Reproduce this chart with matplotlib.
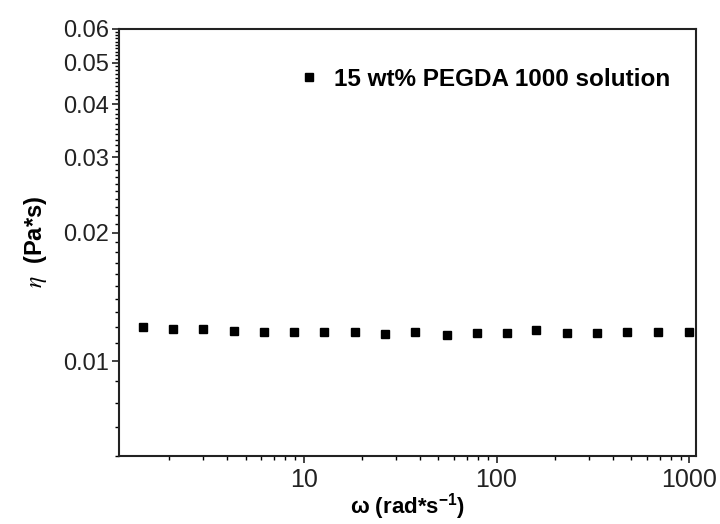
import numpy as np
import matplotlib
matplotlib.use('Agg')
import matplotlib.pyplot as plt
from matplotlib.ticker import FixedLocator, NullFormatter

plt.rcParams['font.family'] = ['Liberation Sans', 'DejaVu Sans']
plt.rcParams['mathtext.fontset'] = 'custom'
plt.rcParams['mathtext.rm'] = 'Liberation Sans'
plt.rcParams['mathtext.bf'] = 'Liberation Sans:bold'

# Viscosity vs angular frequency
omega = [1.46, 2.09, 3.02, 4.33, 6.22, 8.91, 12.8, 18.4, 26.3, 37.8,
         55.1, 78.8, 113, 161, 233, 333, 477, 685, 990]
eta = [0.01199, 0.01186, 0.01186, 0.01177, 0.01167, 0.01167, 0.01167, 0.01167,
       0.01158, 0.01171, 0.01150, 0.01161, 0.01161, 0.01181, 0.01161, 0.01161,
       0.01171, 0.01171, 0.01171]
series_label = '15 wt% PEGDA 1000 solution'

y_major = [0.01, 0.02, 0.03, 0.04, 0.05, 0.06]
y_labels = ['0.01', '0.02', '0.03', '0.04', '0.05', '0.06']
x_major = [10, 100, 1000]
x_labels = ['10', '100', '1000']

fig = plt.figure(figsize=(7.2, 5.24), dpi=100)
ax = fig.add_axes([0.165, 0.130, 0.802, 0.815])

ax.plot(omega, eta, 's', color='black', markersize=6, label=series_label)

ax.set_xscale('log')
ax.set_yscale('log')
ax.set_xlim(1.1, 1085)
ax.set_ylim(0.006, 0.06)

ax.yaxis.set_major_locator(FixedLocator(y_major))
ax.set_yticklabels(y_labels)
minor_y = [v / 1000 for v in range(6, 60) if v not in (10, 20, 30, 40, 50)]
ax.yaxis.set_minor_locator(FixedLocator(minor_y))
ax.yaxis.set_minor_formatter(NullFormatter())

ax.xaxis.set_major_locator(FixedLocator(x_major))
ax.set_xticklabels(x_labels)
minor_x = [m * d for d in (1, 10, 100) for m in range(2, 10)]
ax.xaxis.set_minor_locator(FixedLocator(minor_x))
ax.xaxis.set_minor_formatter(NullFormatter())

ax.tick_params(axis='y', which='major', direction='out', length=5, width=1.2,
               labelsize=17, pad=2, colors='#222222')
ax.tick_params(axis='x', which='major', direction='out', length=5, width=1.2,
               labelsize=18, pad=4, colors='#222222')
ax.tick_params(which='minor', direction='out', length=3, width=1.0)
for s in ax.spines.values():
    s.set_linewidth(1.5)
    s.set_color('#222222')

ax.set_xlabel(r'ω (rad*s$^{\mathbf{-1}}$)', fontsize=16, fontweight='bold', labelpad=-1)
ax.set_ylabel(r'$\eta$  (Pa*s)', fontsize=17, fontweight='bold',
              math_fontfamily='stix', labelpad=10)

ax.legend(loc='upper left', bbox_to_anchor=(0.27, 0.96), frameon=False,
          prop={'weight': 'bold', 'size': 17.5}, handletextpad=0.55,
          handlelength=1.0, markerscale=1.0)

fig.savefig('out.png', dpi=100)
